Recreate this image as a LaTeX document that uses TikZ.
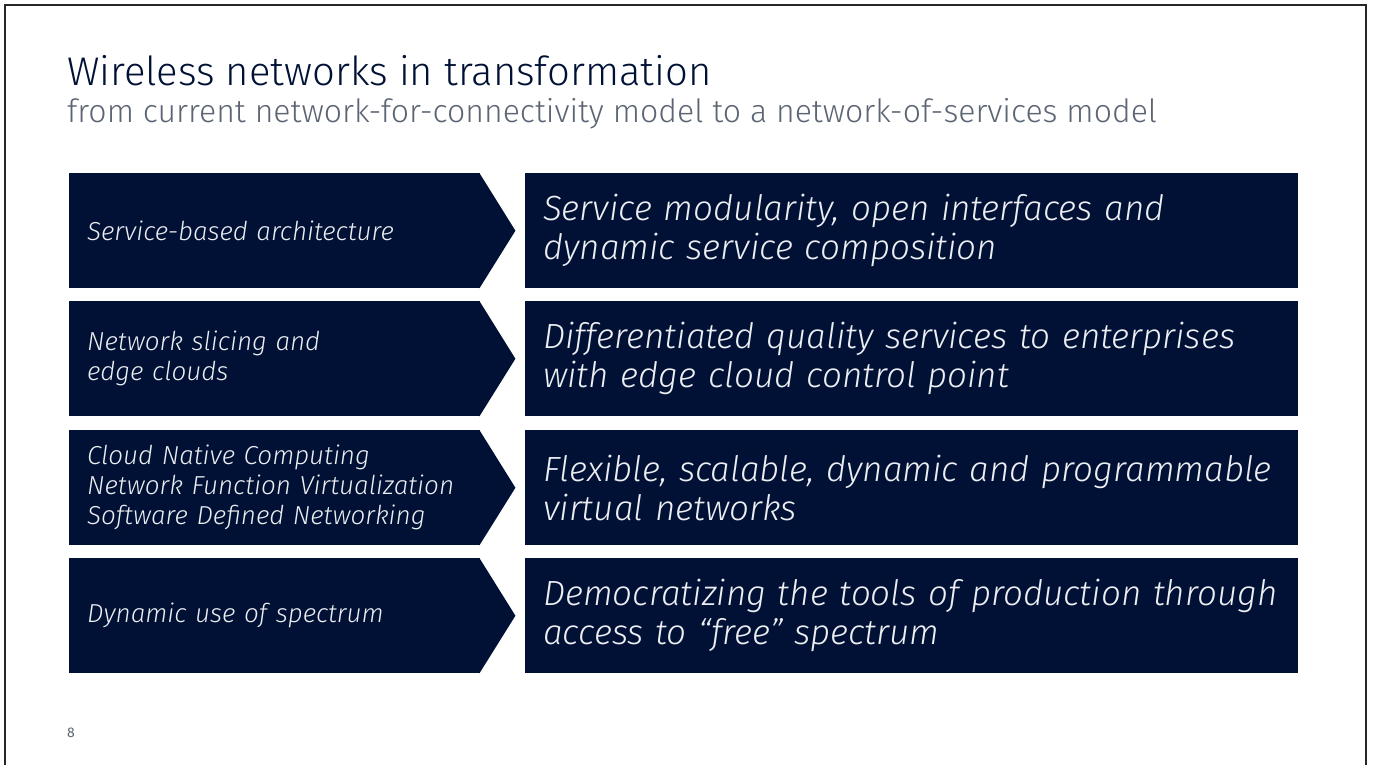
\documentclass[tikz,border=0pt]{standalone}
\usepackage{fontspec}
\setmainfont{Fira Sans}
\newfontfamily\titlefont{Fira Sans Light}
\newfontfamily\boxfont{Fira Sans Light Italic}
\usepackage{xcolor}
\usetikzlibrary{positioning}
\definecolor{navy}{HTML}{001135}
\definecolor{slidegray}{HTML}{5B6573}
\definecolor{boxtext}{HTML}{ECEEF2}

\begin{document}
\begin{tikzpicture}[x=1pt,y=-1pt,
  techbox/.style={fill=navy, text=boxtext, anchor=north west, minimum width=411pt,
    minimum height=115pt, inner xsep=18pt, inner ysep=0pt, text width=375pt, align=left,
    font=\boxfont\fontsize{26}{30}\selectfont},
  goalbox/.style={fill=navy, text=boxtext, anchor=north west, minimum width=773pt,
    minimum height=115pt, inner xsep=18pt, inner ysep=0pt, text width=737pt, align=left,
    font=\boxfont\fontsize{35}{39}\selectfont},
  tip/.style={fill=navy}]
\useasboundingbox (0,0) rectangle (1374,765);
\draw[line width=2pt, black!85] (5,800) -- (5,5) -- (1366,5) -- (1366,800);

\node[anchor=base west, inner sep=0, text=navy, font=\titlefont\fontsize{40}{40}\selectfont]
  (title) at (67,86) {Wireless networks in transformation};
\node[anchor=base west, inner sep=0, text=slidegray, font=\titlefont\fontsize{32}{32}\selectfont]
  (subtitle) at (67,123) {from current network-for-connectivity model to a network-of-services model};

\node[techbox] (T1) at (69,173) {Service-based architecture};
\node[techbox] (T2) at (69,301) {Network slicing and\\edge clouds};
\node[techbox] (T3) at (69,430) {Cloud Native Computing\\Network Function Virtualization\\Software Defined Networking};
\node[techbox] (T4) at (69,558) {Dynamic use of spectrum};

% arrow tips of the left boxes
\fill[tip] ([xshift=-1pt]T1.north east) -- ([xshift=35pt]T1.east) -- ([xshift=-1pt]T1.south east) -- cycle;
\fill[tip] ([xshift=-1pt]T2.north east) -- ([xshift=35pt]T2.east) -- ([xshift=-1pt]T2.south east) -- cycle;
\fill[tip] ([xshift=-1pt]T3.north east) -- ([xshift=35pt]T3.east) -- ([xshift=-1pt]T3.south east) -- cycle;
\fill[tip] ([xshift=-1pt]T4.north east) -- ([xshift=35pt]T4.east) -- ([xshift=-1pt]T4.south east) -- cycle;

\node[goalbox] (G1) at (525,173) {Service modularity, open interfaces and\\dynamic service composition};
\node[goalbox] (G2) at (525,301) {Differentiated quality services to enterprises\\with edge cloud control point};
\node[goalbox] (G3) at (525,430) {Flexible, scalable, dynamic and programmable\\virtual networks};
\node[goalbox] (G4) at (525,558) {Democratizing the tools of production through\\access to “free” spectrum};

\node[anchor=base west, inner sep=0, text=slidegray, font=\fontsize{14}{14}\selectfont]
  (page) at (67,737) {8};
\end{tikzpicture}
\end{document}
